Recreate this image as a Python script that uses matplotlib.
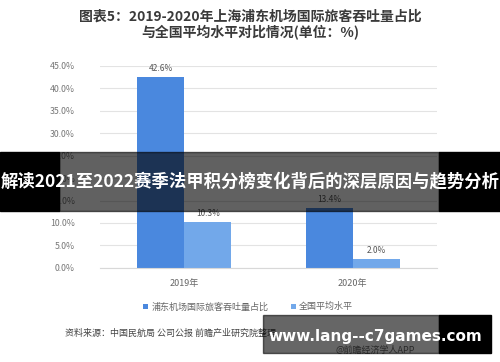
import matplotlib
matplotlib.use("Agg")
import matplotlib.pyplot as plt
from matplotlib.patches import Rectangle
import numpy as np

plt.rcParams['font.family'] = ['Noto Sans CJK SC', 'DejaVu Sans']

years = ['2019年', '2020年']
pudong = [42.6, 13.4]
national = [10.3, 2.0]
series_names = ['浦东机场国际旅客吞吐量占比', '全国平均水平']
yticks = [0, 5, 10, 15, 20, 25, 30, 35, 40, 45]

dark_blue = '#4a88de'
light_blue = '#72a8ea'

fig = plt.figure(figsize=(5, 3.62), dpi=100)
ax = fig.add_axes([0.2, 0.26, 0.674, 0.558])

x = np.arange(len(years))
w = 0.28
b1 = ax.bar(x - w / 2, pudong, w, color=dark_blue, label=series_names[0], zorder=2)
b2 = ax.bar(x + w / 2, national, w, color=light_blue, label=series_names[1], zorder=2)

for bars in (b1, b2):
    for r in bars:
        ax.text(r.get_x() + r.get_width() / 2, r.get_height() + 0.8,
                f'{r.get_height():.1f}%', ha='center', va='bottom',
                fontsize=6, color='#555555')

ax.set_xlim(-0.5, 1.5)
ax.set_ylim(0, 45)
ax.set_yticks(yticks)
ax.set_yticklabels([f'{v:.1f}%' for v in yticks], fontsize=6.3, color='#777777')
ax.set_xticks(x)
ax.set_xticklabels(years, fontsize=6.5, color='#666666')
ax.tick_params(length=0, pad=8)
ax.tick_params(axis='y', pad=18)
ax.grid(axis='y', color='#e3e3e3', linewidth=0.8, zorder=0)
for s in ['top', 'right', 'left']:
    ax.spines[s].set_visible(False)
ax.spines['bottom'].set_color('#d8d8d8')

ax.legend(loc='upper center', bbox_to_anchor=(0.44, -0.13), ncol=2, frameon=False,
          fontsize=6.5, handlelength=0.5, handleheight=0.5, columnspacing=2.5,
          handletextpad=0.4, labelcolor='#666666')

fig.text(0.5, 0.955, '图表5：2019-2020年上海浦东机场国际旅客吞吐量占比',
         ha='center', va='center', fontsize=10, fontweight='bold', color='#3a3a3a')
fig.text(0.5, 0.91, '与全国平均水平对比情况(单位：%)',
         ha='center', va='center', fontsize=10, fontweight='bold', color='#3a3a3a')

fig.text(0.13, 0.08, '资料来源：中国民航局 公司公报 前瞻产业研究院整理',
         ha='left', va='center', fontsize=6.5, color='#444444')
fig.text(0.67, 0.033, '@前瞻经济学人APP', ha='left', va='center',
         fontsize=6.5, color='#666666')

# overlay banner
fig.patches.append(Rectangle((0, 0.417), 0.118, 0.163, transform=fig.transFigure,
                             color='black', zorder=5))
fig.patches.append(Rectangle((0.118, 0.417), 0.76, 0.163, transform=fig.transFigure,
                             color='black', alpha=0.62, zorder=5))
fig.patches.append(Rectangle((0.878, 0.417), 0.122, 0.163, transform=fig.transFigure,
                             color='black', zorder=5))
fig.text(0.5, 0.5, '解读2021至2022赛季法甲积分榜变化背后的深层原因与趋势分析',
         ha='center', va='center', fontsize=12.5, fontweight='bold',
         color='white', zorder=6)

# bottom site box
fig.patches.append(Rectangle((0.526, 0.025), 0.352, 0.105, transform=fig.transFigure,
                             color='black', alpha=0.6, zorder=5))
fig.patches.append(Rectangle((0.878, 0.025), 0.104, 0.105, transform=fig.transFigure,
                             color='black', zorder=5))
fig.text(0.751, 0.071, 'www.lang--c7games.com', ha='center', va='center',
         fontsize=11, fontweight='bold', color='white', family='DejaVu Sans', zorder=6)

fig.savefig('out.png', dpi=100)
